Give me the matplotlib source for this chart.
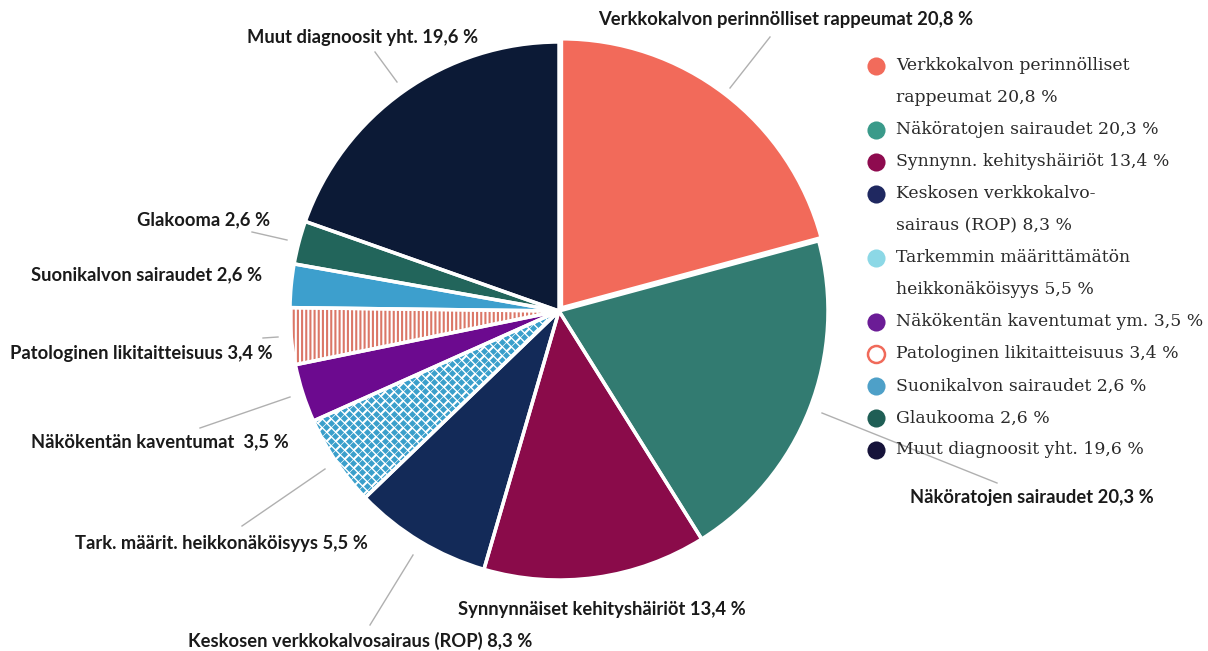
import numpy as np
import matplotlib
matplotlib.use("Agg")
import matplotlib.pyplot as plt

# ---- data ----
values = [20.8, 20.3, 13.4, 8.3, 5.5, 3.5, 3.4, 2.6, 2.6, 19.6]
pie_labels = [
    "Verkkokalvon perinnölliset rappeumat 20,8 %",
    "Näköratojen sairaudet 20,3 %",
    "Synnynnäiset kehityshäiriöt 13,4 %",
    "Keskosen verkkokalvosairaus (ROP) 8,3 %",
    "Tark. määrit. heikkonäköisyys 5,5 %",
    "Näkökentän kaventumat  3,5 %",
    "Patologinen likitaitteisuus 3,4 %",
    "Suonikalvon sairaudet 2,6 %",
    "Glakooma 2,6 %",
    "Muut diagnoosit yht. 19,6 %",
]
legend_labels = [
    "Verkkokalvon perinnölliset\nrappeumat 20,8 %",
    "Näköratojen sairaudet 20,3 %",
    "Synnynn. kehityshäiriöt 13,4 %",
    "Keskosen verkkokalvo-\nsairaus (ROP) 8,3 %",
    "Tarkemmin määrittämätön\nheikkonäköisyys 5,5 %",
    "Näkökentän kaventumat ym. 3,5 %",
    "Patologinen likitaitteisuus 3,4 %",
    "Suonikalvon sairaudet 2,6 %",
    "Glaukooma 2,6 %",
    "Muut diagnoosit yht. 19,6 %",
]
pie_colors = ["#F26A5A", "#327B71", "#8A0B4A", "#132A58", "#FFFFFF",
              "#6C0A8F", "#FFFFFF", "#3D9FCD", "#22655B", "#0C1A36"]
legend_colors = ["#F26B5B", "#3A9A8A", "#8E0B4F", "#1F2860", "#8CD8E6",
                 "#6B1C96", "none", "#4EA0C8", "#1F5E55", "#16133A"]

# ---- layout (pixel coords, y from top) ----
W, H = 1208, 651
def Y(py):
    return H - py

cx, cy, R = 559, 311, 269

label_pos = [
    (598, 20, "left"),
    (910, 498, "left"),
    (458, 609, "left"),
    (188, 641, "left"),
    (75, 543, "left"),
    (31, 442, "left"),
    (10, 354, "left"),
    (31, 275, "left"),
    (137, 220, "left"),
    (247, 37, "left"),
]
leaders = [
    (730, 88, 770, 37),
    (822, 413, 997, 483),
    None,
    (413, 555, 370, 625),
    (325, 469, 242, 526),
    (290, 397, 200, 428),
    (278, 337, 263, 338),
    None,
    (287, 240, 252, 232),
    (397, 82, 375, 52),
]

plt.rcParams["hatch.linewidth"] = 1.5

fig = plt.figure(figsize=(W / 100, H / 100), dpi=100)
ax = fig.add_axes([0, 0, 1, 1])

explode = [4, 0, 0, 0, 0, 0, 0, 0, 0, 0]
wedges, _ = ax.pie(values, colors=pie_colors, startangle=90, counterclock=False,
                   radius=R, center=(cx, Y(cy)), explode=explode,
                   wedgeprops=dict(linewidth=0))

# Patologinen: vertical stripes
wp = wedges[6]
wp.set_facecolor("white")
wp.set_edgecolor("#DB7767")
wp.set_hatch("||||")

# Tarkemmin: diamond pattern clipped to wedge
wt = wedges[4]
px, py_ = 9, 4.5
gy = np.arange(Y(cy) - R, Y(cy) + R, py_)
xs, ys = [], []
for k, yy in enumerate(gy):
    off = (k % 2) * px / 2
    gx = np.arange(cx - R + off, cx + R, px)
    xs.extend(gx)
    ys.extend([yy] * len(gx))
sc = ax.scatter(xs, ys, marker="D", s=13, color="#3A9FCB",
                linewidths=0, zorder=wt.get_zorder() + 0.5)
sc.set_clip_path(wt)

# white borders
ax.pie(values, colors=["none"] * len(values), startangle=90, counterclock=False,
       radius=R, center=(cx, Y(cy)), explode=explode,
       wedgeprops=dict(linewidth=2.5, edgecolor="white", fill=False, zorder=3))

# labels and leader lines
for lab, (lx, ly, ha), ld in zip(pie_labels, label_pos, leaders):
    ax.text(lx, Y(ly), lab, ha=ha, va="center", fontsize=13.2, fontweight="bold",
            family="Lato", color="#1A1A1A")
    if ld is not None:
        x0, y0, x1, y1 = ld
        ax.plot([x0, x1], [Y(y0), Y(y1)], color="#B0B0B0", lw=1)

# legend (manual)
line_h = 32
row = 66
for lab, col in zip(legend_labels, legend_colors):
    if col == "none":
        ax.scatter([876], [Y(row)], s=150, facecolor="white", edgecolor="#F06A5A",
                   linewidths=1.8, zorder=5)
    else:
        ax.scatter([876], [Y(row)], s=170, color=col, linewidths=0, zorder=5)
    for ln in lab.split("\n"):
        ax.text(896, Y(row), ln, ha="left", va="center", fontsize=12.4,
                family="DejaVu Serif", color="#2A2A2A")
        row += line_h

ax.set_xlim(0, W)
ax.set_ylim(0, H)
ax.set_aspect("equal")
ax.axis("off")

fig.savefig("out.png", dpi=100)
